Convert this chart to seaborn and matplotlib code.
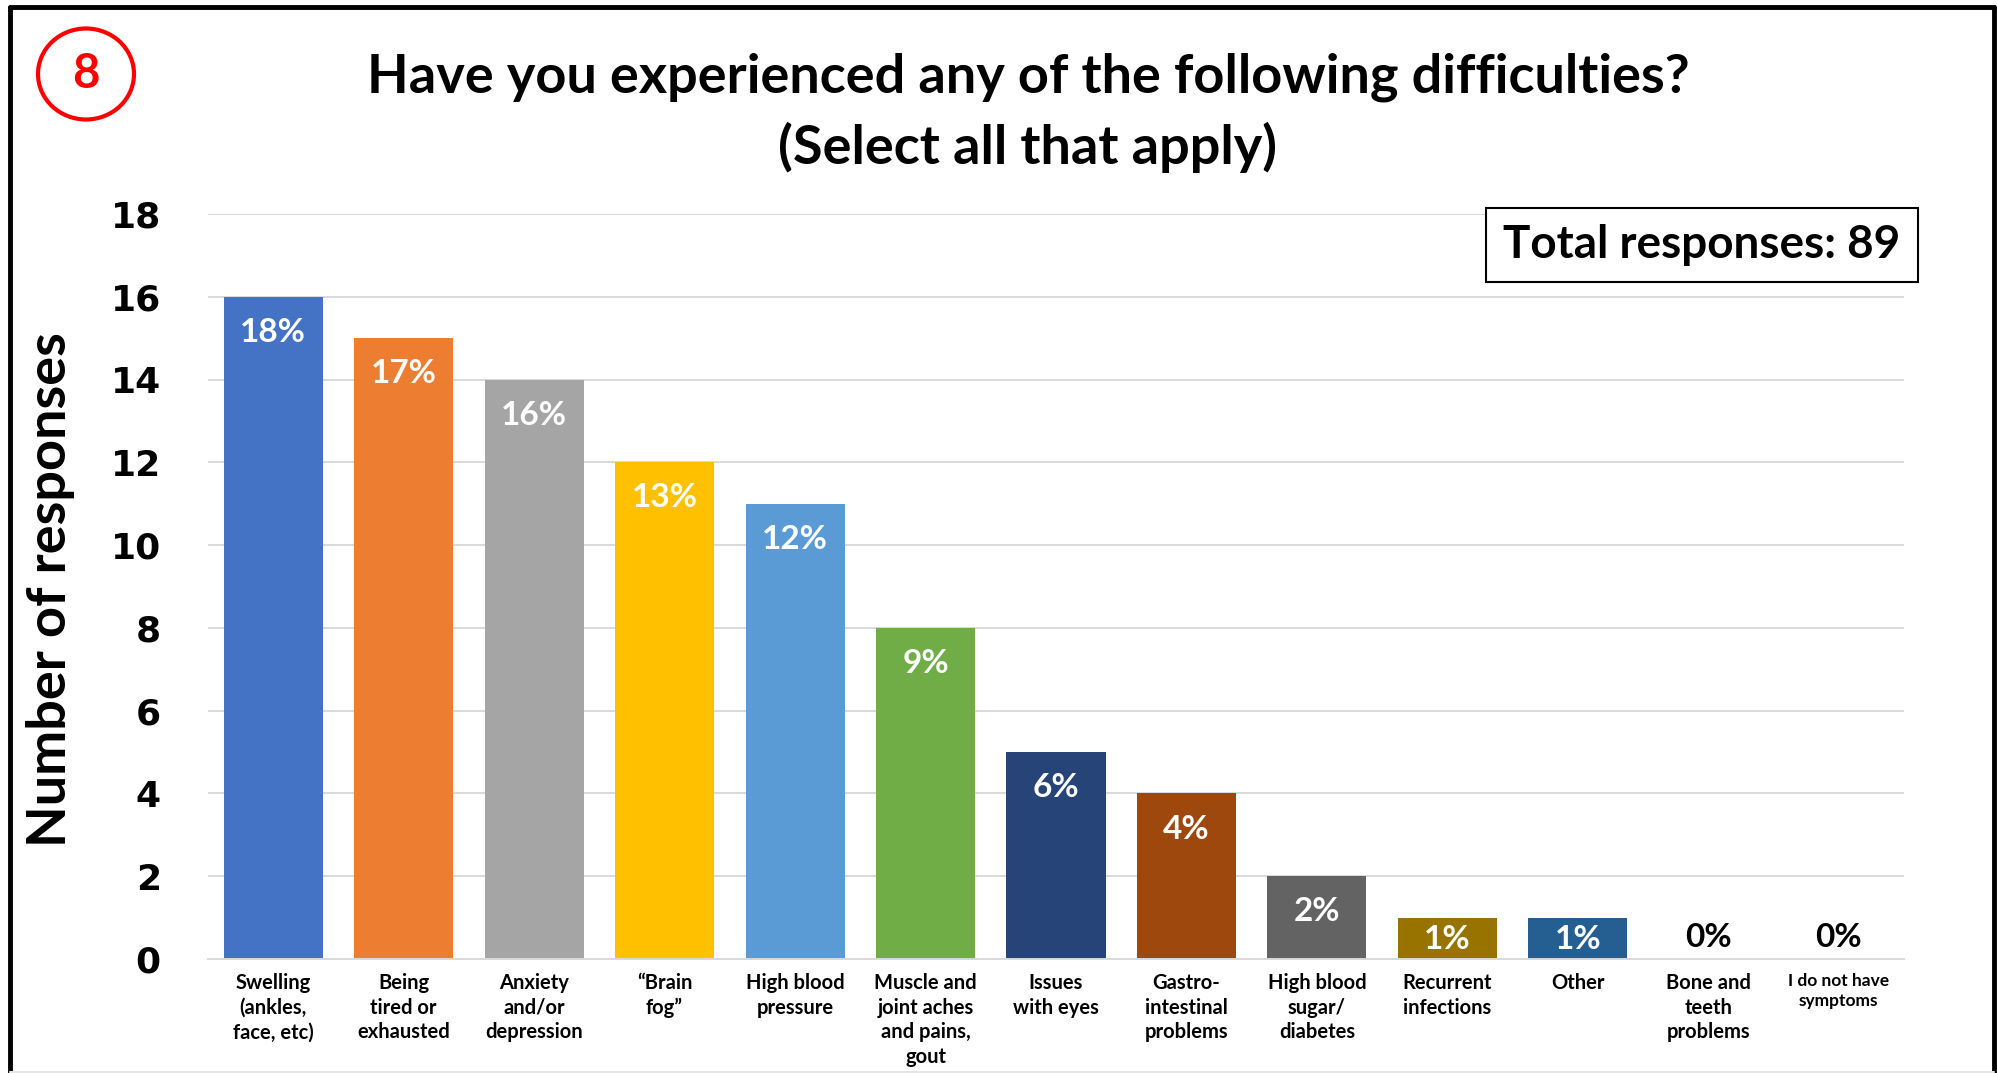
import matplotlib
matplotlib.use("Agg")
import matplotlib.pyplot as plt
from matplotlib.patches import Ellipse, Rectangle
from matplotlib.lines import Line2D
import seaborn as sns
import pandas as pd

# Survey question 8: reported difficulties (multiple answers allowed)
categories = [
    "Swelling\n(ankles,\nface, etc)",
    "Being\ntired or\nexhausted",
    "Anxiety\nand/or\ndepression",
    "\u201cBrain\nfog\u201d",
    "High blood\npressure",
    "Muscle and\njoint aches\nand pains,\ngout",
    "Issues\nwith eyes",
    "Gastro-\nintestinal\nproblems",
    "High blood\nsugar/\ndiabetes",
    "Recurrent\ninfections",
    "Other",
    "Bone and\nteeth\nproblems",
    "I do not have\nsymptoms",
]
responses = [16, 15, 14, 12, 11, 8, 5, 4, 2, 1, 1, 0, 0]
percent_labels = ["18%", "17%", "16%", "13%", "12%", "9%", "6%", "4%",
                  "2%", "1%", "1%", "0%", "0%"]
bar_colors = ["#4472C4", "#ED7D31", "#A5A5A5", "#FFC000", "#5B9BD5",
              "#70AD47", "#264478", "#9E480E", "#636363", "#997300",
              "#255E91", "#43682B", "#698ED0"]
y_ticks = [0, 2, 4, 6, 8, 10, 12, 14, 16, 18]
total_responses = 89
question_number = "8"
title_lines = ["Have you experienced any of the following difficulties?",
               "(Select all that apply)"]

sns.set_theme(style="white")
plt.rcParams["font.family"] = ["Lato", "DejaVu Sans"]
plt.rcParams["text.color"] = "black"
plt.rcParams["axes.labelcolor"] = "black"
plt.rcParams["xtick.color"] = "black"
plt.rcParams["ytick.color"] = "black"

W, H = 1997, 1073
fig = plt.figure(figsize=(W / 100, H / 100), dpi=100)
fig.patch.set_facecolor("white")

# axes placed in pixel terms
ax_left, ax_right, ax_top, ax_bottom = 208, 1904, 214, 959
ax = fig.add_axes([ax_left / W, 1 - ax_bottom / H,
                   (ax_right - ax_left) / W, (ax_bottom - ax_top) / H])

df = pd.DataFrame({"category": categories, "responses": responses})
sns.barplot(data=df, x="category", y="responses", hue="category",
            palette=bar_colors, legend=False, width=0.76, saturation=1,
            linewidth=0, ax=ax)

ax.set_xlim(-0.5, len(categories) - 0.5)
ax.set_ylim(0, 18)
ax.set_yticks(y_ticks)
ax.yaxis.grid(True, color="#D9D9D9", linewidth=1.4)
ax.xaxis.grid(False)
ax.set_axisbelow(True)
for side in ["top", "right", "left"]:
    ax.spines[side].set_visible(False)
ax.spines["bottom"].set_color("#D9D9D9")
ax.spines["bottom"].set_linewidth(1.4)
ax.set_xlabel("")
ax.set_ylabel("")

ax.tick_params(axis="y", length=0, pad=34, labelcolor="black")
for lab in ax.get_yticklabels():
    lab.set_fontfamily("DejaVu Sans")
    lab.set_fontweight("bold")
    lab.set_fontsize(26)

ax.tick_params(axis="x", length=0, pad=10, labelcolor="black")
ax.set_xticks(range(len(categories)))
ax.set_xticklabels(categories)
for i, lab in enumerate(ax.get_xticklabels()):
    lab.set_fontweight("bold")
    lab.set_fontsize(12.5 if i == len(categories) - 1 else 14.5)
    lab.set_linespacing(1.3)

# percentage labels inside the bars
for i, (v, txt) in enumerate(zip(responses, percent_labels)):
    if v >= 2:
        y, color = v - 0.86, "white"
    elif v >= 1:
        y, color = 0.46, "white"
    else:
        y, color = 0.52, "black"
    ax.text(i, y, txt, ha="center", va="center", color=color,
            fontsize=24, fontweight="bold")

# y-axis title
fig.text(51 / W, 1 - 590 / H, "Number of responses", rotation=90,
         ha="center", va="center", fontsize=39, fontweight="bold")

# chart title
fig.text(1028 / W, 1 - 77 / H, title_lines[0], ha="center", va="center",
         fontsize=39, fontweight="bold")
fig.text(1028 / W, 1 - 147 / H, title_lines[1], ha="center", va="center",
         fontsize=39, fontweight="bold")

# total responses box
bx0, by0, bx1, by1 = 1486, 208, 1918, 282
fig.add_artist(Rectangle((bx0 / W, 1 - by1 / H), (bx1 - bx0) / W,
                         (by1 - by0) / H, transform=fig.transFigure,
                         facecolor="white", edgecolor="black", linewidth=1.5,
                         zorder=5))
fig.text((bx0 + bx1) / 2 / W, 1 - (by0 + by1) / 2 / H,
         f"Total responses: {total_responses}", ha="center", va="center",
         fontsize=33, fontweight="bold", zorder=6)

# question number badge
fig.add_artist(Ellipse((86 / W, 1 - 74 / H), 96 / W, 91 / H,
                       transform=fig.transFigure, fill=False,
                       edgecolor="#FF0000", linewidth=3))
fig.text(86 / W, 1 - 74 / H, question_number, ha="center", va="center",
         color="#FF0000", fontsize=34, fontweight="bold")

# frame around the slide
frame_kw = dict(transform=fig.transFigure, color="black", linewidth=3.5)
fig.add_artist(Line2D([10 / W, 10 / W], [0, 1 - 6.5 / H], **frame_kw))
fig.add_artist(Line2D([10 / W, 1994 / W], [1 - 6.5 / H, 1 - 6.5 / H], **frame_kw))
fig.add_artist(Line2D([1994 / W, 1994 / W], [0, 1 - 6.5 / H], **frame_kw))
fig.add_artist(Line2D([10 / W, 1994 / W], [1.5 / H, 1.5 / H],
                      transform=fig.transFigure, color="#E6E6E6", linewidth=1.5))

fig.savefig("out.png", dpi=100, facecolor="white")
